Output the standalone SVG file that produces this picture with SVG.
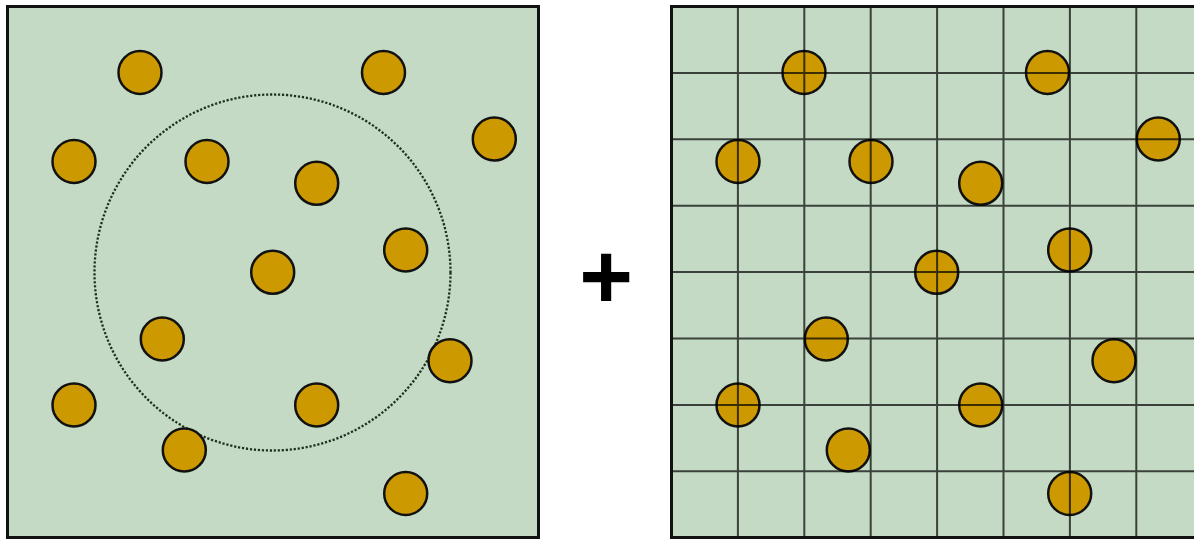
<svg xmlns="http://www.w3.org/2000/svg" width="1194" height="540" viewBox="0 0 1194 540">
<style>
.panel{fill:#c4dac4;stroke:#111;stroke-width:3}
.border{fill:none;stroke:#111;stroke-width:3}
.grid{stroke:#000;stroke-opacity:0.7;stroke-width:2;fill:none}
.dot{fill:#cc9900;stroke:#111;stroke-width:2.5}
.ring{fill:none;stroke:#1f2f22;stroke-width:2.3;stroke-dasharray:2.2 1.8}
.plus{font-family:"Liberation Sans",Arial,sans-serif;font-weight:bold;font-size:92px;fill:#000}
</style>
<defs>
<g id="dots">
<circle class="dot" cx="140" cy="72.5" r="21.5"/>
<circle class="dot" cx="383.5" cy="72.5" r="21.5"/>
<circle class="dot" cx="74" cy="161.5" r="21.5"/>
<circle class="dot" cx="207" cy="161.5" r="21.5"/>
<circle class="dot" cx="494.3" cy="139" r="21.5"/>
<circle class="dot" cx="316.7" cy="183.3" r="21.5"/>
<circle class="dot" cx="405.7" cy="250" r="21.5"/>
<circle class="dot" cx="272.7" cy="272.3" r="21.5"/>
<circle class="dot" cx="162.3" cy="339" r="21.5"/>
<circle class="dot" cx="450" cy="360.7" r="21.5"/>
<circle class="dot" cx="74" cy="405" r="21.5"/>
<circle class="dot" cx="316.7" cy="405" r="21.5"/>
<circle class="dot" cx="184.3" cy="450" r="21.5"/>
<circle class="dot" cx="405.7" cy="493.5" r="21.5"/>
</g>
</defs>
<rect width="1194" height="540" fill="#fff"/>
<g id="left-panel">
<rect class="panel" x="7.5" y="6.5" width="531" height="531"/>
<circle class="ring" cx="272.5" cy="272.5" r="178"/>
<use href="#dots"/>
</g>
<g id="plus">
<text class="plus" x="606" y="308" text-anchor="middle">+</text>
</g>
<g id="right-panel">
<rect class="panel" x="671.5" y="6.5" width="531" height="531"/>
<use href="#dots" transform="translate(664 0)"/>
<path class="grid" d="M737.9 6.5V537.5M804.3 6.5V537.5M870.7 6.5V537.5M937.1 6.5V537.5M1003.5 6.5V537.5M1069.9 6.5V537.5M1136.3 6.5V537.5M671.5 72.9H1202.5M671.5 139.3H1202.5M671.5 205.7H1202.5M671.5 272.1H1202.5M671.5 338.5H1202.5M671.5 404.9H1202.5M671.5 471.3H1202.5"/>
<rect class="border" x="671.5" y="6.5" width="531" height="531"/>
</g>
</svg>
